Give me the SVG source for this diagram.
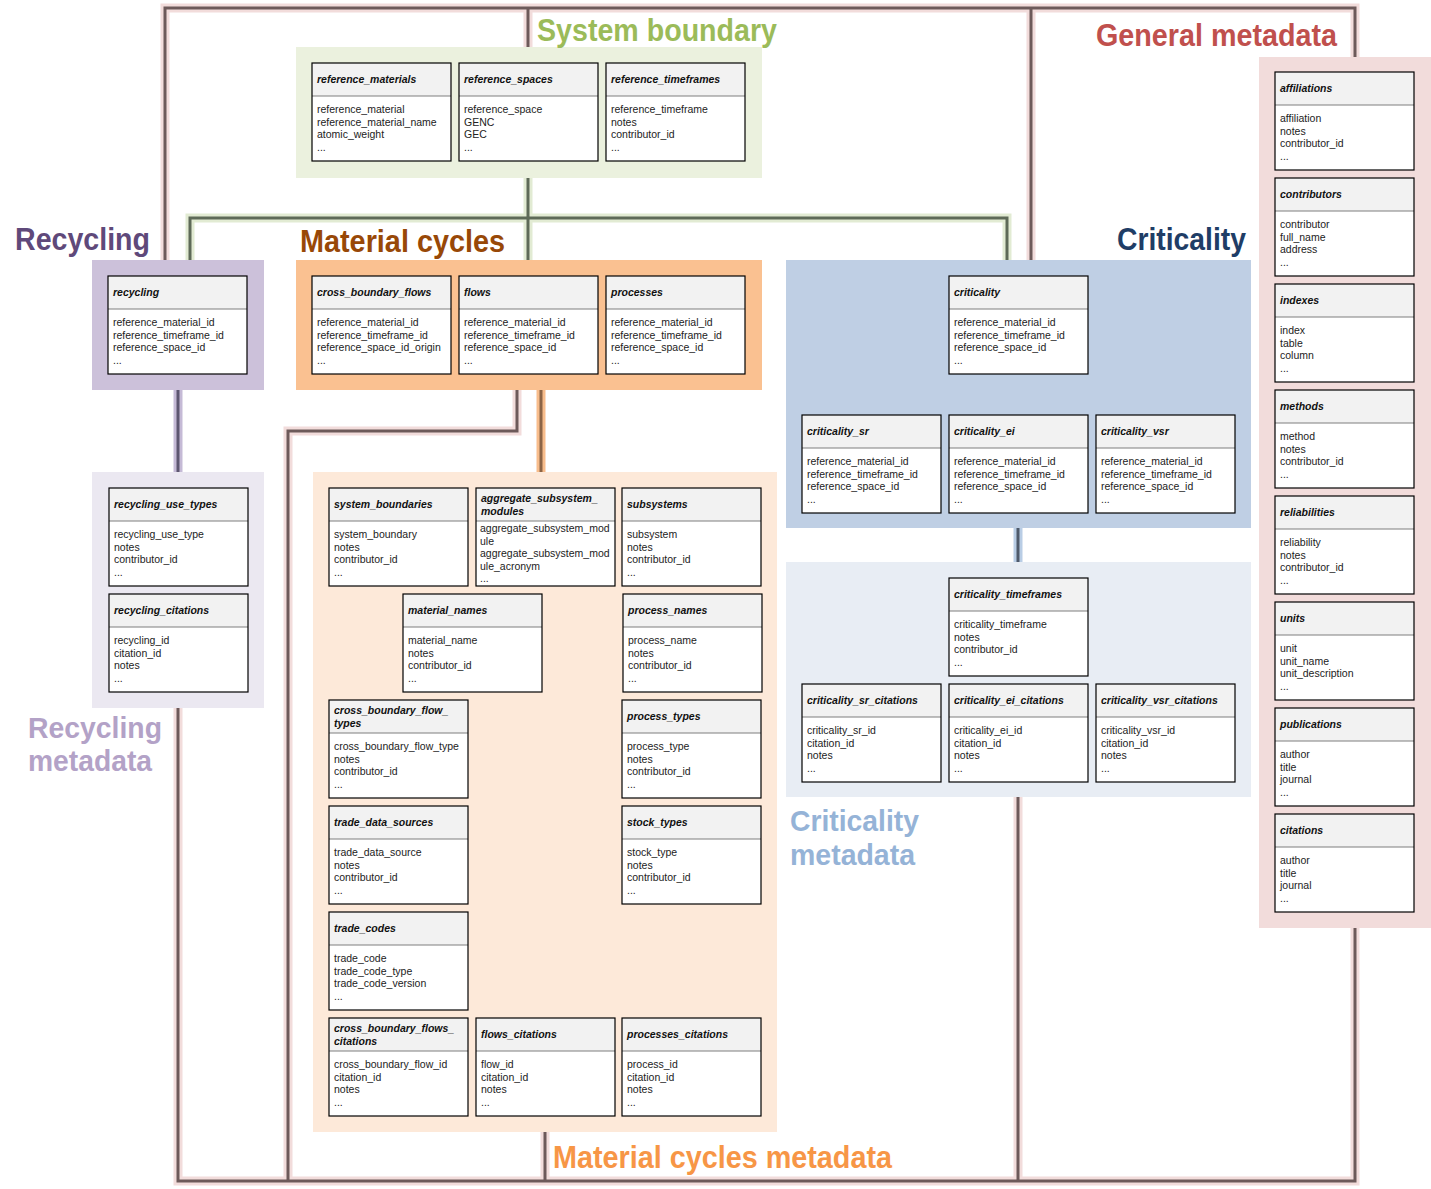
<svg xmlns="http://www.w3.org/2000/svg" xmlns:xlink="http://www.w3.org/1999/xlink" width="1431" height="1189" viewBox="0 0 1431 1189">
<style>
.h{font-family:"Liberation Sans",Arial,sans-serif;font-size:10.5px;font-weight:bold;font-style:italic;fill:#111}
.b{font-family:"Liberation Sans",Arial,sans-serif;font-size:10.5px;fill:#222}
.lab{font-family:"Liberation Sans",Arial,sans-serif;font-size:32px;font-weight:bold}
.lab2{font-family:"Liberation Sans",Arial,sans-serif;font-size:30px;font-weight:bold}
.halo{fill:none;stroke-width:9;stroke-linejoin:miter}
.ln{fill:none;stroke-width:3;stroke-linejoin:miter}
.pk .halo{stroke:#f2dcdb}.pk .ln{stroke:#6d5a5a}
.gr .halo{stroke:#e2ebd3}.gr .ln{stroke:#5e6a58}
.pu .halo{stroke:#c5bad6}.pu .ln{stroke:#5d5670}
.or .halo{stroke:#f8bd8c}.or .ln{stroke:#8c6446}
.bl .halo{stroke:#b9cde5}.bl .ln{stroke:#4f5a6b}
</style>
<defs>
<g id="frame">
<rect x="0" y="0" width="139" height="98" fill="#ffffff"/>
<rect x="0" y="0" width="139" height="33" fill="#f2f2f2"/>
<line x1="0" y1="33" x2="139" y2="33" stroke="#7f7f7f" stroke-width="1"/>
<rect x="0" y="0" width="139" height="98" fill="none" stroke="#000" stroke-width="1.2"/>
</g>
</defs>
<rect width="1431" height="1189" fill="#ffffff"/>

<g id="connectors">
<g class="pk">
<path class="halo" d="M165,263 V8 H1355 V57 M528,8 V47 M1031,8 V260"/>
<path class="ln" d="M165,263 V8 H1355 V57 M528,8 V47 M1031,8 V260"/>
<path class="halo" d="M178,708 V1181 H1355 V928 M288,1181 V431 H517 V390 M545,1132 V1181 M1018,797 V1181"/>
<path class="ln" d="M178,708 V1181 H1355 V928 M288,1181 V431 H517 V390 M545,1132 V1181 M1018,797 V1181"/>
</g>
<g class="gr">
<path class="halo" d="M528,178 V262 M190,262 V218 H1007 V262"/>
<path class="ln" d="M528,178 V262 M190,262 V218 H1007 V262"/>
</g>
<g class="pu"><path class="halo" d="M178,390 V472"/><path class="ln" d="M178,390 V472"/></g>
<g class="or"><path class="halo" d="M541,390 V472"/><path class="ln" d="M541,390 V472"/></g>
<g class="bl"><path class="halo" d="M1018,528 V562"/><path class="ln" d="M1018,528 V562"/></g>
</g>

<g id="sec-system-boundary">
<rect x="296" y="47" width="466" height="131" fill="#ebf1de"/>
<text class="lab" x="537" y="41" textLength="240" lengthAdjust="spacingAndGlyphs" fill="#9bbb59">System boundary</text>
</g>
<g id="sec-general-metadata">
<rect x="1259" y="57" width="172" height="871" fill="#f2dcdb"/>
<text class="lab" x="1096" y="46" textLength="241" lengthAdjust="spacingAndGlyphs" fill="#c0504d">General metadata</text>
</g>
<g id="sec-recycling">
<rect x="92" y="260" width="172" height="130" fill="#ccc1da"/>
<text class="lab" x="15" y="250" textLength="135" lengthAdjust="spacingAndGlyphs" fill="#5f497a">Recycling</text>
</g>
<g id="sec-material-cycles">
<rect x="296" y="260" width="466" height="130" fill="#fac191"/>
<text class="lab" x="300" y="252" textLength="205" lengthAdjust="spacingAndGlyphs" fill="#984807">Material cycles</text>
</g>
<g id="sec-criticality">
<rect x="786" y="260" width="465" height="268" fill="#bfcfe4"/>
<text class="lab" x="1117" y="250" textLength="129" lengthAdjust="spacingAndGlyphs" fill="#1f3d66">Criticality</text>
</g>
<g id="sec-criticality-metadata">
<rect x="786" y="562" width="465" height="235" fill="#e8edf4"/>
<text class="lab2" x="790" y="831" textLength="129" lengthAdjust="spacingAndGlyphs" fill="#95b3d7">Criticality</text>
<text class="lab2" x="790" y="865" textLength="125" lengthAdjust="spacingAndGlyphs" fill="#95b3d7">metadata</text>
</g>
<g id="sec-recycling-metadata">
<rect x="92" y="472" width="172" height="236" fill="#ebe8f1"/>
<text class="lab2" x="28" y="738" textLength="134" lengthAdjust="spacingAndGlyphs" fill="#b3a2c7">Recycling</text>
<text class="lab2" x="28" y="771" textLength="124" lengthAdjust="spacingAndGlyphs" fill="#b3a2c7">metadata</text>
</g>
<g id="sec-material-cycles-metadata">
<rect x="313" y="472" width="464" height="660" fill="#fde9d9"/>
<text class="lab" x="553" y="1168" textLength="339" lengthAdjust="spacingAndGlyphs" fill="#f79646">Material cycles metadata</text>
</g>

<!-- System boundary tables -->
<g id="t-reference_materials" transform="translate(312,63)"><use xlink:href="#frame"/><text class="h" x="5" y="20">reference_materials</text><text class="b"><tspan x="5" y="50">reference_material</tspan><tspan x="5" y="62.5">reference_material_name</tspan><tspan x="5" y="75">atomic_weight</tspan><tspan x="5" y="87.5">...</tspan></text></g>
<g id="t-reference_spaces" transform="translate(459,63)"><use xlink:href="#frame"/><text class="h" x="5" y="20">reference_spaces</text><text class="b"><tspan x="5" y="50">reference_space</tspan><tspan x="5" y="62.5">GENC</tspan><tspan x="5" y="75">GEC</tspan><tspan x="5" y="87.5">...</tspan></text></g>
<g id="t-reference_timeframes" transform="translate(606,63)"><use xlink:href="#frame"/><text class="h" x="5" y="20">reference_timeframes</text><text class="b"><tspan x="5" y="50">reference_timeframe</tspan><tspan x="5" y="62.5">notes</tspan><tspan x="5" y="75">contributor_id</tspan><tspan x="5" y="87.5">...</tspan></text></g>

<!-- Recycling -->
<g id="t-recycling" transform="translate(108,276)"><use xlink:href="#frame"/><text class="h" x="5" y="20">recycling</text><text class="b"><tspan x="5" y="50">reference_material_id</tspan><tspan x="5" y="62.5">reference_timeframe_id</tspan><tspan x="5" y="75">reference_space_id</tspan><tspan x="5" y="87.5">...</tspan></text></g>

<!-- Material cycles -->
<g id="t-cross_boundary_flows" transform="translate(312,276)"><use xlink:href="#frame"/><text class="h" x="5" y="20">cross_boundary_flows</text><text class="b"><tspan x="5" y="50">reference_material_id</tspan><tspan x="5" y="62.5">reference_timeframe_id</tspan><tspan x="5" y="75">reference_space_id_origin</tspan><tspan x="5" y="87.5">...</tspan></text></g>
<g id="t-flows" transform="translate(459,276)"><use xlink:href="#frame"/><text class="h" x="5" y="20">flows</text><text class="b"><tspan x="5" y="50">reference_material_id</tspan><tspan x="5" y="62.5">reference_timeframe_id</tspan><tspan x="5" y="75">reference_space_id</tspan><tspan x="5" y="87.5">...</tspan></text></g>
<g id="t-processes" transform="translate(606,276)"><use xlink:href="#frame"/><text class="h" x="5" y="20">processes</text><text class="b"><tspan x="5" y="50">reference_material_id</tspan><tspan x="5" y="62.5">reference_timeframe_id</tspan><tspan x="5" y="75">reference_space_id</tspan><tspan x="5" y="87.5">...</tspan></text></g>

<!-- Criticality -->
<g id="t-criticality" transform="translate(949,276)"><use xlink:href="#frame"/><text class="h" x="5" y="20">criticality</text><text class="b"><tspan x="5" y="50">reference_material_id</tspan><tspan x="5" y="62.5">reference_timeframe_id</tspan><tspan x="5" y="75">reference_space_id</tspan><tspan x="5" y="87.5">...</tspan></text></g>
<g id="t-criticality_sr" transform="translate(802,415)"><use xlink:href="#frame"/><text class="h" x="5" y="20">criticality_sr</text><text class="b"><tspan x="5" y="50">reference_material_id</tspan><tspan x="5" y="62.5">reference_timeframe_id</tspan><tspan x="5" y="75">reference_space_id</tspan><tspan x="5" y="87.5">...</tspan></text></g>
<g id="t-criticality_ei" transform="translate(949,415)"><use xlink:href="#frame"/><text class="h" x="5" y="20">criticality_ei</text><text class="b"><tspan x="5" y="50">reference_material_id</tspan><tspan x="5" y="62.5">reference_timeframe_id</tspan><tspan x="5" y="75">reference_space_id</tspan><tspan x="5" y="87.5">...</tspan></text></g>
<g id="t-criticality_vsr" transform="translate(1096,415)"><use xlink:href="#frame"/><text class="h" x="5" y="20">criticality_vsr</text><text class="b"><tspan x="5" y="50">reference_material_id</tspan><tspan x="5" y="62.5">reference_timeframe_id</tspan><tspan x="5" y="75">reference_space_id</tspan><tspan x="5" y="87.5">...</tspan></text></g>

<!-- Criticality metadata -->
<g id="t-criticality_timeframes" transform="translate(949,578)"><use xlink:href="#frame"/><text class="h" x="5" y="20">criticality_timeframes</text><text class="b"><tspan x="5" y="50">criticality_timeframe</tspan><tspan x="5" y="62.5">notes</tspan><tspan x="5" y="75">contributor_id</tspan><tspan x="5" y="87.5">...</tspan></text></g>
<g id="t-criticality_sr_citations" transform="translate(802,684)"><use xlink:href="#frame"/><text class="h" x="5" y="20">criticality_sr_citations</text><text class="b"><tspan x="5" y="50">criticality_sr_id</tspan><tspan x="5" y="62.5">citation_id</tspan><tspan x="5" y="75">notes</tspan><tspan x="5" y="87.5">...</tspan></text></g>
<g id="t-criticality_ei_citations" transform="translate(949,684)"><use xlink:href="#frame"/><text class="h" x="5" y="20">criticality_ei_citations</text><text class="b"><tspan x="5" y="50">criticality_ei_id</tspan><tspan x="5" y="62.5">citation_id</tspan><tspan x="5" y="75">notes</tspan><tspan x="5" y="87.5">...</tspan></text></g>
<g id="t-criticality_vsr_citations" transform="translate(1096,684)"><use xlink:href="#frame"/><text class="h" x="5" y="20">criticality_vsr_citations</text><text class="b"><tspan x="5" y="50">criticality_vsr_id</tspan><tspan x="5" y="62.5">citation_id</tspan><tspan x="5" y="75">notes</tspan><tspan x="5" y="87.5">...</tspan></text></g>

<!-- Recycling metadata -->
<g id="t-recycling_use_types" transform="translate(109,488)"><use xlink:href="#frame"/><text class="h" x="5" y="20">recycling_use_types</text><text class="b"><tspan x="5" y="50">recycling_use_type</tspan><tspan x="5" y="62.5">notes</tspan><tspan x="5" y="75">contributor_id</tspan><tspan x="5" y="87.5">...</tspan></text></g>
<g id="t-recycling_citations" transform="translate(109,594)"><use xlink:href="#frame"/><text class="h" x="5" y="20">recycling_citations</text><text class="b"><tspan x="5" y="50">recycling_id</tspan><tspan x="5" y="62.5">citation_id</tspan><tspan x="5" y="75">notes</tspan><tspan x="5" y="87.5">...</tspan></text></g>

<!-- Material cycles metadata -->
<g id="t-system_boundaries" transform="translate(329,488)"><use xlink:href="#frame"/><text class="h" x="5" y="20">system_boundaries</text><text class="b"><tspan x="5" y="50">system_boundary</tspan><tspan x="5" y="62.5">notes</tspan><tspan x="5" y="75">contributor_id</tspan><tspan x="5" y="87.5">...</tspan></text></g>
<g id="t-aggregate_subsystem_modules" transform="translate(476,488)"><use xlink:href="#frame"/><text class="h"><tspan x="5" y="14">aggregate_subsystem_</tspan><tspan x="5" y="27">modules</tspan></text><text class="b"><tspan x="4" y="44">aggregate_subsystem_mod</tspan><tspan x="4" y="56.5">ule</tspan><tspan x="4" y="69">aggregate_subsystem_mod</tspan><tspan x="4" y="81.5">ule_acronym</tspan><tspan x="4" y="94">...</tspan></text></g>
<g id="t-subsystems" transform="translate(622,488)"><use xlink:href="#frame"/><text class="h" x="5" y="20">subsystems</text><text class="b"><tspan x="5" y="50">subsystem</tspan><tspan x="5" y="62.5">notes</tspan><tspan x="5" y="75">contributor_id</tspan><tspan x="5" y="87.5">...</tspan></text></g>
<g id="t-material_names" transform="translate(403,594)"><use xlink:href="#frame"/><text class="h" x="5" y="20">material_names</text><text class="b"><tspan x="5" y="50">material_name</tspan><tspan x="5" y="62.5">notes</tspan><tspan x="5" y="75">contributor_id</tspan><tspan x="5" y="87.5">...</tspan></text></g>
<g id="t-process_names" transform="translate(623,594)"><use xlink:href="#frame"/><text class="h" x="5" y="20">process_names</text><text class="b"><tspan x="5" y="50">process_name</tspan><tspan x="5" y="62.5">notes</tspan><tspan x="5" y="75">contributor_id</tspan><tspan x="5" y="87.5">...</tspan></text></g>
<g id="t-cross_boundary_flow_types" transform="translate(329,700)"><use xlink:href="#frame"/><text class="h"><tspan x="5" y="14">cross_boundary_flow_</tspan><tspan x="5" y="26.5">types</tspan></text><text class="b"><tspan x="5" y="50">cross_boundary_flow_type</tspan><tspan x="5" y="62.5">notes</tspan><tspan x="5" y="75">contributor_id</tspan><tspan x="5" y="87.5">...</tspan></text></g>
<g id="t-process_types" transform="translate(622,700)"><use xlink:href="#frame"/><text class="h" x="5" y="20">process_types</text><text class="b"><tspan x="5" y="50">process_type</tspan><tspan x="5" y="62.5">notes</tspan><tspan x="5" y="75">contributor_id</tspan><tspan x="5" y="87.5">...</tspan></text></g>
<g id="t-trade_data_sources" transform="translate(329,806)"><use xlink:href="#frame"/><text class="h" x="5" y="20">trade_data_sources</text><text class="b"><tspan x="5" y="50">trade_data_source</tspan><tspan x="5" y="62.5">notes</tspan><tspan x="5" y="75">contributor_id</tspan><tspan x="5" y="87.5">...</tspan></text></g>
<g id="t-stock_types" transform="translate(622,806)"><use xlink:href="#frame"/><text class="h" x="5" y="20">stock_types</text><text class="b"><tspan x="5" y="50">stock_type</tspan><tspan x="5" y="62.5">notes</tspan><tspan x="5" y="75">contributor_id</tspan><tspan x="5" y="87.5">...</tspan></text></g>
<g id="t-trade_codes" transform="translate(329,912)"><use xlink:href="#frame"/><text class="h" x="5" y="20">trade_codes</text><text class="b"><tspan x="5" y="50">trade_code</tspan><tspan x="5" y="62.5">trade_code_type</tspan><tspan x="5" y="75">trade_code_version</tspan><tspan x="5" y="87.5">...</tspan></text></g>
<g id="t-cross_boundary_flows_citations" transform="translate(329,1018)"><use xlink:href="#frame"/><text class="h"><tspan x="5" y="14">cross_boundary_flows_</tspan><tspan x="5" y="26.5">citations</tspan></text><text class="b"><tspan x="5" y="50">cross_boundary_flow_id</tspan><tspan x="5" y="62.5">citation_id</tspan><tspan x="5" y="75">notes</tspan><tspan x="5" y="87.5">...</tspan></text></g>
<g id="t-flows_citations" transform="translate(476,1018)"><use xlink:href="#frame"/><text class="h" x="5" y="20">flows_citations</text><text class="b"><tspan x="5" y="50">flow_id</tspan><tspan x="5" y="62.5">citation_id</tspan><tspan x="5" y="75">notes</tspan><tspan x="5" y="87.5">...</tspan></text></g>
<g id="t-processes_citations" transform="translate(622,1018)"><use xlink:href="#frame"/><text class="h" x="5" y="20">processes_citations</text><text class="b"><tspan x="5" y="50">process_id</tspan><tspan x="5" y="62.5">citation_id</tspan><tspan x="5" y="75">notes</tspan><tspan x="5" y="87.5">...</tspan></text></g>

<!-- General metadata -->
<g id="t-affiliations" transform="translate(1275,72)"><use xlink:href="#frame"/><text class="h" x="5" y="20">affiliations</text><text class="b"><tspan x="5" y="50">affiliation</tspan><tspan x="5" y="62.5">notes</tspan><tspan x="5" y="75">contributor_id</tspan><tspan x="5" y="87.5">...</tspan></text></g>
<g id="t-contributors" transform="translate(1275,178)"><use xlink:href="#frame"/><text class="h" x="5" y="20">contributors</text><text class="b"><tspan x="5" y="50">contributor</tspan><tspan x="5" y="62.5">full_name</tspan><tspan x="5" y="75">address</tspan><tspan x="5" y="87.5">...</tspan></text></g>
<g id="t-indexes" transform="translate(1275,284)"><use xlink:href="#frame"/><text class="h" x="5" y="20">indexes</text><text class="b"><tspan x="5" y="50">index</tspan><tspan x="5" y="62.5">table</tspan><tspan x="5" y="75">column</tspan><tspan x="5" y="87.5">...</tspan></text></g>
<g id="t-methods" transform="translate(1275,390)"><use xlink:href="#frame"/><text class="h" x="5" y="20">methods</text><text class="b"><tspan x="5" y="50">method</tspan><tspan x="5" y="62.5">notes</tspan><tspan x="5" y="75">contributor_id</tspan><tspan x="5" y="87.5">...</tspan></text></g>
<g id="t-reliabilities" transform="translate(1275,496)"><use xlink:href="#frame"/><text class="h" x="5" y="20">reliabilities</text><text class="b"><tspan x="5" y="50">reliability</tspan><tspan x="5" y="62.5">notes</tspan><tspan x="5" y="75">contributor_id</tspan><tspan x="5" y="87.5">...</tspan></text></g>
<g id="t-units" transform="translate(1275,602)"><use xlink:href="#frame"/><text class="h" x="5" y="20">units</text><text class="b"><tspan x="5" y="50">unit</tspan><tspan x="5" y="62.5">unit_name</tspan><tspan x="5" y="75">unit_description</tspan><tspan x="5" y="87.5">...</tspan></text></g>
<g id="t-publications" transform="translate(1275,708)"><use xlink:href="#frame"/><text class="h" x="5" y="20">publications</text><text class="b"><tspan x="5" y="50">author</tspan><tspan x="5" y="62.5">title</tspan><tspan x="5" y="75">journal</tspan><tspan x="5" y="87.5">...</tspan></text></g>
<g id="t-citations" transform="translate(1275,814)"><use xlink:href="#frame"/><text class="h" x="5" y="20">citations</text><text class="b"><tspan x="5" y="50">author</tspan><tspan x="5" y="62.5">title</tspan><tspan x="5" y="75">journal</tspan><tspan x="5" y="87.5">...</tspan></text></g>
</svg>
